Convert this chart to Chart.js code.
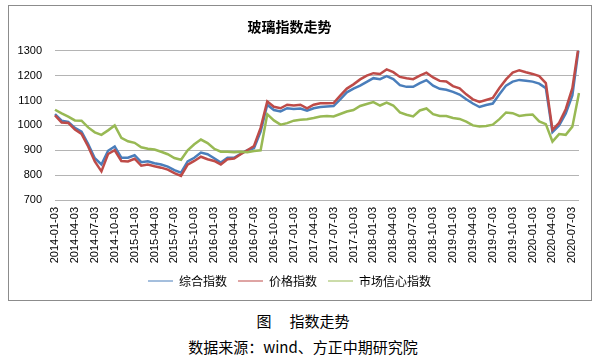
<!DOCTYPE html>
<html><head><meta charset="utf-8">
<script src="https://cdn.jsdelivr.net/npm/chart.js@4"></script>
<style>
html,body{margin:0;padding:0;background:#fff;}
body{width:606px;height:357px;position:relative;overflow:hidden;font-family:"Noto Sans CJK SC",sans-serif;}
#frame{position:absolute;left:8px;top:5px;width:582px;height:294px;border:1px solid #8c8c8c;}
#wrap{position:absolute;left:0;top:0;width:606px;height:300px;}
.cap{position:absolute;left:0;width:606px;text-align:center;font-size:15px;color:#000;line-height:18px;white-space:nowrap;}
</style></head><body>
<div id="frame"></div>
<div id="wrap"><canvas id="c" width="606" height="300"></canvas></div>
<div class="cap" style="top:312px">图<span style="display:inline-block;width:18px"></span>指数走势</div>
<div class="cap" style="top:338px">数据来源：wind、方正中期研究院</div>
<script>
const categories = [
"2014-01-03","2014-02-03","2014-03-03","2014-04-03","2014-05-03","2014-06-03","2014-07-03","2014-08-03","2014-09-03","2014-10-03","2014-11-03","2014-12-03",
"2015-01-03","2015-02-03","2015-03-03","2015-04-03","2015-05-03","2015-06-03","2015-07-03","2015-08-03","2015-09-03","2015-10-03","2015-11-03","2015-12-03",
"2016-01-03","2016-02-03","2016-03-03","2016-04-03","2016-05-03","2016-06-03","2016-07-03","2016-08-03","2016-09-03","2016-10-03","2016-11-03","2016-12-03",
"2017-01-03","2017-02-03","2017-03-03","2017-04-03","2017-05-03","2017-06-03","2017-07-03","2017-08-03","2017-09-03","2017-10-03","2017-11-03","2017-12-03",
"2018-01-03","2018-02-03","2018-03-03","2018-04-03","2018-05-03","2018-06-03","2018-07-03","2018-08-03","2018-09-03","2018-10-03","2018-11-03","2018-12-03",
"2019-01-03","2019-02-03","2019-03-03","2019-04-03","2019-05-03","2019-06-03","2019-07-03","2019-08-03","2019-09-03","2019-10-03","2019-11-03","2019-12-03",
"2020-01-03","2020-02-03","2020-03-03","2020-04-03","2020-05-03","2020-06-03","2020-07-03","2020-08-03"
];
// ticks shown on the x axis (quarterly)
const tickLabels = ["2014-01-03","2014-04-03","2014-07-03","2014-10-03","2015-01-03","2015-04-03","2015-07-03","2015-10-03",
"2016-01-03","2016-04-03","2016-07-03","2016-10-03","2017-01-03","2017-04-03","2017-07-03","2017-10-03",
"2018-01-03","2018-04-03","2018-07-03","2018-10-03","2019-01-03","2019-04-03","2019-07-03","2019-10-03",
"2020-01-03","2020-04-03","2020-07-03"];
const yTicks = [700,800,900,1000,1100,1200,1300];

const seriesNames = ["综合指数","价格指数","市场信心指数"];
const composite = [1045,1019,1014,990,975,925,868,843,898,915,870,870,
880,852,856,848,843,834,820,810,855,870,891,884,
868,851,870,870,886,900,908,975,1083,1062,1056,1069,
1066,1068,1059,1069,1074,1076,1078,1105,1133,1148,1160,1175,
1190,1186,1198,1186,1162,1155,1155,1170,1182,1160,1147,1143,
1135,1124,1105,1088,1074,1082,1088,1125,1160,1176,1183,1180,
1176,1168,1150,973,1000,1048,1120,1320];
const price = [1040,1012,1010,983,966,915,855,815,885,900,857,855,
866,838,843,836,830,822,808,797,842,857,874,864,
857,843,864,867,884,900,917,990,1096,1075,1069,1083,
1080,1083,1069,1083,1089,1089,1090,1120,1148,1165,1185,1200,
1210,1207,1225,1214,1195,1190,1186,1200,1212,1193,1179,1177,
1158,1149,1125,1105,1094,1102,1110,1150,1185,1212,1222,1214,
1207,1198,1170,982,1010,1065,1150,1330];
const confidence = [1063,1048,1035,1020,1019,992,972,962,980,1000,950,936,
930,912,906,903,894,884,869,862,900,924,943,929,
906,894,894,892,894,892,897,900,1045,1020,1003,1009,
1019,1023,1025,1030,1036,1038,1036,1046,1056,1062,1078,1086,
1094,1080,1092,1080,1052,1043,1036,1060,1068,1045,1038,1038,
1030,1026,1015,1000,996,998,1003,1025,1052,1049,1038,1042,
1044,1016,1005,935,965,962,995,1130];

const colors = ["#4A7EBB","#BE4B48","#98B954"];
const tickFont = {family:'"Liberation Sans", Arial, sans-serif', size:11};

new Chart(document.getElementById('c'), {
  type:'line',
  data:{
    labels:categories,
    datasets:[
      {label:seriesNames[0], data:composite, borderColor:colors[0], backgroundColor:colors[0], order:3},
      {label:seriesNames[1], data:price, borderColor:colors[1], backgroundColor:colors[1], order:2},
      {label:seriesNames[2], data:confidence, borderColor:colors[2], backgroundColor:colors[2], order:1}
    ]
  },
  options:{
    responsive:false,
    animation:false,
    devicePixelRatio:1,
    elements:{line:{borderWidth:2.5, tension:0, fill:false}, point:{radius:0, hoverRadius:0}},
    layout:{padding:{left:0,right:27,top:0,bottom:3}},
    plugins:{
      title:{display:true, text:'玻璃指数走势', color:'#000',
        font:{family:'"Noto Sans CJK SC", sans-serif', size:14, weight:'bold'},
        padding:{top:18,bottom:16}},
      legend:{position:'bottom',
        labels:{usePointStyle:true, pointStyle:'line', pointStyleWidth:25, padding:11, color:'#000',
          font:{family:'"Noto Sans CJK SC", sans-serif', size:12},
          sort:(a,b)=>a.datasetIndex-b.datasetIndex}},
      tooltip:{enabled:false}
    },
    scales:{
      x:{type:'category', offset:false,
        grid:{display:false, drawTicks:false}, border:{display:false},
        ticks:{autoSkip:false, minRotation:90, maxRotation:90, padding:7, color:'#000', font:tickFont,
          callback:function(v,i){ const l = categories[i]; return tickLabels.includes(l) ? l : ''; }},
        afterFit:function(s){ s.height = 64; }
      },
      y:{min:yTicks[0], max:yTicks[yTicks.length-1],
        grid:{color:'#b4b4b4', drawTicks:false, lineWidth:1}, border:{display:false},
        ticks:{stepSize:100, padding:13, color:'#000', font:tickFont,
          callback:function(v){ return yTicks.includes(v) ? String(v) : ''; }},
        afterFit:function(s){ s.width = 55; }
      }
    }
  }
});
</script>
</body></html>
